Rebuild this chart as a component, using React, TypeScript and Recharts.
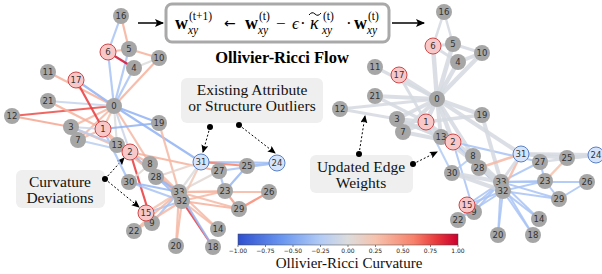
import React from "react";
import { ScatterChart, Scatter, XAxis, YAxis, ReferenceLine, Customized } from "recharts";

const W = 602;
const H = 274;

// node layout (pixel space), index = node id
const leftX = [114, 103, 130, 71, 134, 129, 108, 78, 150, 152, 159, 48, 12, 117, 218, 146, 121, 76, 213, 159, 176, 48, 134, 225, 277, 247, 269, 219, 156, 239, 129, 201, 182, 179];
const leftY = [106, 129, 152, 127, 68, 49, 52, 140, 164, 223, 58, 72, 116, 145, 229, 213, 16, 80, 247, 123, 246, 101, 231, 191, 163, 166, 192, 171, 177, 209, 182, 162, 201, 192];
const rightX = [437, 426, 453, 397, 458, 453, 433, 403, 473, 474, 482, 375, 340, 441, 539, 467, 444, 399, 533, 482, 498, 375, 458, 545, 596, 567, 587, 540, 479, 559, 452, 521, 503, 501];
const rightY = [99, 122, 142, 119, 62, 44, 46, 132, 156, 212, 53, 67, 109, 137, 219, 205, 12, 75, 235, 115, 235, 96, 220, 181, 155, 158, 182, 162, 168, 199, 173, 154, 191, 182];

const outlierNodes = [6, 17, 1, 2, 15];
const blueNodes = [31, 24];

// karate club edges
const edgeU = [0, 0, 0, 0, 0, 0, 0, 0, 0, 0, 0, 0, 0, 0, 0, 0, 1, 1, 1, 1, 1, 1, 1, 1, 2, 2, 2, 2, 2, 2, 2, 2, 3, 3, 3, 4, 4, 5, 5, 5, 6, 8, 8, 8, 9, 13, 14, 14, 15, 15, 18, 18, 19, 20, 20, 22, 22, 23, 23, 23, 23, 23, 24, 24, 24, 25, 26, 26, 27, 28, 28, 29, 29, 30, 30, 31, 31, 32];
const edgeV = [1, 2, 3, 4, 5, 6, 7, 8, 10, 11, 12, 13, 17, 19, 21, 31, 2, 3, 7, 13, 17, 19, 21, 30, 3, 7, 8, 9, 13, 27, 28, 32, 7, 12, 13, 6, 10, 6, 10, 16, 16, 30, 32, 33, 33, 33, 32, 33, 32, 33, 32, 33, 33, 32, 33, 32, 33, 25, 27, 29, 32, 33, 25, 27, 31, 31, 29, 33, 33, 31, 33, 32, 33, 32, 33, 32, 33, 33];
const leftCurv = [0.25, -0.1, 0.3, -0.3, -0.3, -0.3, 0.3, 0.3, 0.35, 0.35, 0.75, 0.0, -0.42, -0.42, -0.15, -0.42, 0.3, -0.1, 0.3, 0.3, 0.8, -0.42, 0.35, -0.3, 0.3, -0.2, 0.3, 0.8, 0.3, 0.35, -0.38, -0.38, 0.3, 0.4, -0.2, 0.95, 0.0, 0.3, 0.35, 0.35, -0.3, 0.05, 0.3, 0.3, -0.3, 0.3, 0.3, 0.3, -0.3, 0.25, 0.8, -0.38, 0.3, 0.3, 0.3, 0.3, 0.3, -0.38, -0.3, 0.45, 0.3, 0.3, -0.38, -0.3, -0.35, 0.6, 0.55, 0.3, 0.05, 0.1, -0.38, 0.35, 0.3, -0.3, -0.38, 0.2, 0.0, 0.3];
const rightCurv = [-0.04, -0.04, -0.04, -0.04, -0.04, -0.04, -0.04, -0.04, -0.04, -0.04, -0.04, -0.04, -0.04, -0.04, -0.04, -0.04, -0.04, -0.04, -0.04, -0.04, -0.04, -0.04, -0.04, -0.25, -0.04, -0.04, -0.04, -0.3, -0.04, -0.3, -0.3, -0.3, -0.04, -0.04, -0.04, -0.04, -0.04, -0.04, -0.04, -0.04, -0.04, -0.25, -0.04, -0.04, -0.3, -0.04, -0.3, -0.3, -0.3, -0.3, -0.3, -0.3, -0.04, -0.3, -0.3, -0.3, -0.3, 0.25, -0.3, -0.3, -0.3, -0.3, -0.04, -0.04, -0.04, -0.04, -0.3, -0.3, -0.3, 0.3, -0.04, -0.3, -0.3, -0.04, -0.04, 0.3, -0.04, -0.04];
const rightWidth = [4.5, 4.5, 4, 4.5, 4.5, 4.5, 4, 4, 4.5, 3.5, 3, 4, 4, 4, 4, 4, 4, 4, 4, 4, 3, 3.5, 3.5, 2, 4, 4, 4, 2, 4, 2, 2, 2, 4, 3, 4, 3, 4, 3, 3, 2.5, 2.5, 2, 3.5, 3.5, 2, 4, 2, 2, 2, 2, 2, 2, 4, 2, 2, 2, 2, 2.5, 2, 2, 2, 2, 4, 2.5, 4, 4, 2, 2, 2, 2.5, 4, 2, 2, 4, 4, 2.5, 3, 4];

const cbarTicks = [-1, -0.75, -0.5, -0.25, 0, 0.25, 0.5, 0.75, 1];

const cmapStops: [number, string][] = [
  [0, "#2f4fcf"],
  [0.2, "#6a96f0"],
  [0.375, "#b2cbf5"],
  [0.5, "#dcdcdc"],
  [0.625, "#f5c3ae"],
  [0.8, "#f7806a"],
  [0.9, "#e83a3c"],
  [1, "#cc002f"],
];

const hex = (c: string) => [1, 3, 5].map((i) => parseInt(c.slice(i, i + 2), 16));

function cmap(v: number) {
  const t = Math.max(0, Math.min(1, (v + 1) / 2));
  for (let i = 1; i < cmapStops.length; i++) {
    const [t1, c1] = cmapStops[i];
    const [t0, c0] = cmapStops[i - 1];
    if (t <= t1) {
      const f = (t - t0) / (t1 - t0);
      const a = hex(c0);
      const b = hex(c1);
      const m = a.map((x, k) => Math.round(x + (b[k] - x) * f));
      return `rgb(${m[0]},${m[1]},${m[2]})`;
    }
  }
  return cmapStops[cmapStops.length - 1][1];
}

// gray nodes first, 33 under 32, highlighted nodes on top
const drawOrder = [0, 3, 4, 5, 7, 8, 9, 10, 11, 12, 13, 14, 16, 18, 19, 20, 21, 22, 23, 25, 26, 27, 28, 29, 30, 33, 32, 1, 2, 6, 15, 17, 24, 31];

const leftNodes = drawOrder.map((id) => ({ x: leftX[id], y: leftY[id], id }));
const rightNodes = drawOrder.map((id) => ({ x: rightX[id], y: rightY[id], id }));

const NodeShape = (props: any) => {
  const { cx, cy, payload } = props;
  const id = payload.id;
  let fill = "#a6a6a6";
  let stroke = "none";
  if (outlierNodes.includes(id)) {
    fill = "#f8c8c8";
    stroke = "#d04848";
  } else if (blueNodes.includes(id)) {
    fill = "#d5e4fa";
    stroke = "#5a80c8";
  }
  return (
    <g>
      <circle cx={cx} cy={cy} r={8} fill={fill} stroke={stroke} strokeWidth={1} />
      <text x={cx} y={cy + 3} textAnchor="middle" fontSize={8.5} fontFamily="DejaVu Sans" fill="#333">
        {id}
      </text>
    </g>
  );
};

const serif = "Liberation Serif";

const Term = ({ x, sup }: { x: number; sup: string }) => (
  <g fontFamily={serif}>
    <text x={x} y={29} fontSize={18} fontWeight="bold">w</text>
    <text x={x + 14} y={20} fontSize={11.5}>{sup}</text>
    <text x={x + 13} y={34} fontSize={11.5} fontStyle="italic">xy</text>
  </g>
);

const Note = ({ x, y, w, h, lines, tx }: { x: number; y: number; w: number; h: number; lines: string[]; tx: number }) => (
  <g>
    <rect x={x} y={y} width={w} height={h} rx={6} fill="#efefef" />
    {lines.map((l, i) => (
      <text key={i} x={tx} y={y + 17 + i * 16} textAnchor="middle" fontSize={15.5} fontFamily={serif} fill="#111">
        {l}
      </text>
    ))}
  </g>
);

const DashArrow = ({ x1, y1, x2, y2 }: { x1: number; y1: number; x2: number; y2: number }) => (
  <line x1={x1} y1={y1} x2={x2} y2={y2} stroke="#000" strokeWidth={1} strokeDasharray="2 2" markerEnd="url(#headSmall)" />
);

const cbX0 = 238;
const cbX1 = 458;
const cbPos = (v: number) => cbX0 + ((v + 1) / 2) * (cbX1 - cbX0);

const Overlay = () => (
  <g>
    <defs>
      <linearGradient id="cbar" x1="0" x2="1" y1="0" y2="0">
        {cmapStops.map(([t, c]) => (
          <stop key={t} offset={t} stopColor={c} />
        ))}
      </linearGradient>
      <marker id="headBig" markerWidth="10" markerHeight="10" refX="8" refY="4" orient="auto" markerUnits="userSpaceOnUse">
        <path d="M0,0 L9,4 L0,8 L2,4 Z" fill="#000" />
      </marker>
      <marker id="headSmall" markerWidth="9" markerHeight="9" refX="7" refY="3.5" orient="auto" markerUnits="userSpaceOnUse">
        <path d="M0,0 L8,3.5 L0,7 L1.5,3.5 Z" fill="#000" />
      </marker>
    </defs>

    {/* formula box */}
    <rect x={166} y={4} width={223} height={38} rx={6} fill="#fff" stroke="#a9a9a9" strokeWidth={3} />
    <line x1={138} y1={23} x2={163} y2={23} stroke="#000" strokeWidth={1.5} markerEnd="url(#headBig)" />
    <line x1={392} y1={23} x2={424} y2={23} stroke="#000" strokeWidth={1.5} markerEnd="url(#headBig)" />
    <Term x={175} sup="(t+1)" />
    <text x={224} y={28} fontSize={14} fontFamily="DejaVu Sans">←</text>
    <Term x={245} sup="(t)" />
    <text x={276} y={29} fontSize={17} fontFamily={serif}>−</text>
    <text x={292} y={29} fontSize={17} fontFamily={serif} fontStyle="italic">ϵ</text>
    <text x={300} y={29} fontSize={17} fontFamily={serif}>·</text>
    <text x={310} y={29} fontSize={18} fontFamily={serif} fontStyle="italic">κ</text>
    <path d="M309,15 Q312,11 315,14 T321,13" fill="none" stroke="#000" strokeWidth={1} />
    <text x={323} y={20} fontSize={11.5} fontFamily={serif}>(t)</text>
    <text x={322} y={34} fontSize={11.5} fontFamily={serif} fontStyle="italic">xy</text>
    <text x={346} y={29} fontSize={17} fontFamily={serif}>·</text>
    <Term x={354} sup="(t)" />

    <text x={282} y={63} textAnchor="middle" fontSize={16.5} fontWeight="bold" fontFamily={serif}>
      Ollivier-Ricci Flow
    </text>

    <Note x={181} y={78} w={142} h={45} tx={252} lines={["Existing Attribute", "or Structure Outliers"]} />
    <Note x={16} y={170} w={89} h={38} tx={60} lines={["Curvature", "Deviations"]} />
    <Note x={310} y={155} w={103} h={38} tx={361} lines={["Updated Edge", "Weights"]} />

    <circle cx={210} cy={127} r={3} fill="#000" />
    <circle cx={239} cy={125} r={3} fill="#000" />
    <DashArrow x1={210} y1={127} x2={203} y2={152} />
    <DashArrow x1={239} y1={125} x2={275} y2={153} />
    <circle cx={105} cy={179} r={3} fill="#000" />
    <DashArrow x1={105} y1={179} x2={124} y2={158} />
    <DashArrow x1={105} y1={179} x2={139} y2={207} />
    <circle cx={359} cy={154} r={3} fill="#000" />
    <circle cx={413} cy={164} r={3} fill="#000" />
    <DashArrow x1={359} y1={154} x2={365} y2={116} />
    <DashArrow x1={413} y1={164} x2={437} y2={152} />

    {/* colorbar */}
    <rect x={cbX0} y={234} width={cbX1 - cbX0} height={11} fill="url(#cbar)" stroke="#444" strokeWidth={0.5} />
    {cbarTicks.map((v) => (
      <g key={v}>
        <line x1={cbPos(v)} x2={cbPos(v)} y1={245} y2={247} stroke="#333" strokeWidth={0.6} />
        <text x={cbPos(v)} y={252.5} textAnchor="middle" fontSize={6} fontFamily="DejaVu Sans" fill="#222">
          {v.toFixed(2).replace("-", "\u2212")}
        </text>
      </g>
    ))}
    <text x={349} y={268} textAnchor="middle" fontSize={15} fontFamily={serif} fill="#111">
      Ollivier-Ricci Curvature
    </text>
  </g>
);

export default function App() {
  return (
    <div style={{ position: "absolute", left: 0, top: 0, background: "#fff" }}>
      <ScatterChart width={W} height={H} margin={{ top: 0, right: 0, bottom: 0, left: 0 }}>
        <XAxis type="number" dataKey="x" domain={[0, W]} hide />
        <YAxis type="number" dataKey="y" domain={[0, H]} reversed hide />
        {edgeU.map((u, i) => (
          <ReferenceLine
            key={`l${i}`}
            segment={[{ x: leftX[u], y: leftY[u] }, { x: leftX[edgeV[i]], y: leftY[edgeV[i]] }]}
            stroke={cmap(leftCurv[i])}
            strokeWidth={2.2}
            strokeOpacity={0.85}
            ifOverflow="visible"
          />
        ))}
        {edgeU.map((u, i) => (
          <ReferenceLine
            key={`r${i}`}
            segment={[{ x: rightX[u], y: rightY[u] }, { x: rightX[edgeV[i]], y: rightY[edgeV[i]] }]}
            stroke={cmap(rightCurv[i])}
            strokeWidth={rightWidth[i]}
            strokeOpacity={0.85}
            ifOverflow="visible"
          />
        ))}
        <Scatter data={leftNodes} shape={NodeShape} isAnimationActive={false} />
        <Scatter data={rightNodes} shape={NodeShape} isAnimationActive={false} />
        <Customized component={Overlay} />
      </ScatterChart>
    </div>
  );
}
